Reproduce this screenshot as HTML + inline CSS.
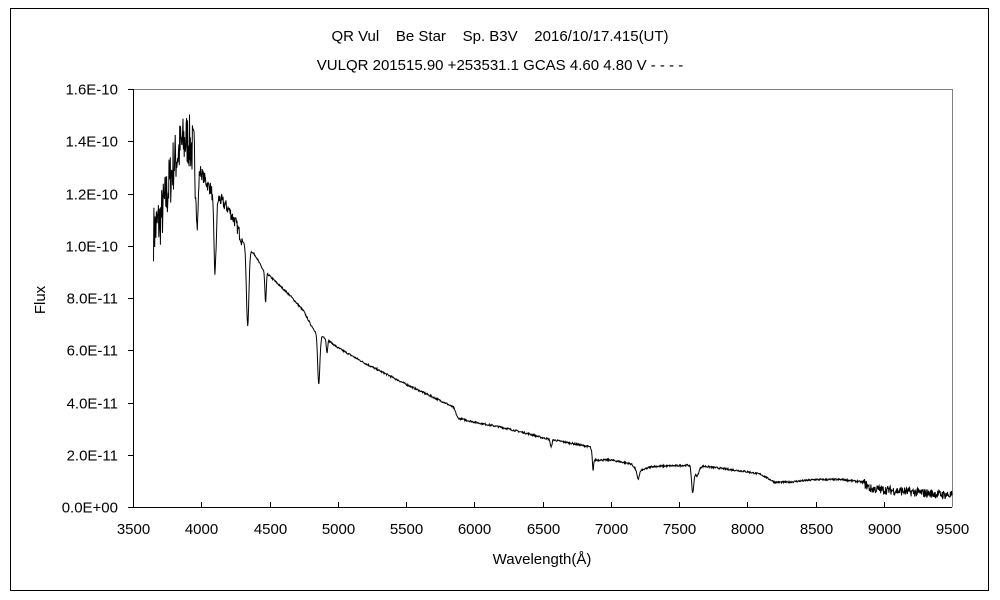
<!DOCTYPE html>
<html><head><meta charset="utf-8"><style>
body{margin:0;background:#fff;}
svg{display:block;font-family:"Liberation Sans","Noto Sans CJK JP",sans-serif;}
</style></head><body>
<svg id="s" width="1000" height="600" xmlns="http://www.w3.org/2000/svg">
<rect x="0" y="0" width="1000" height="600" fill="#fff"/>
<rect x="10.5" y="8.5" width="978" height="582" fill="none" stroke="#000" stroke-width="1"/>
<text x="500" y="41" font-size="15" text-anchor="middle" xml:space="preserve">QR Vul    Be Star    Sp. B3V    2016/10/17.415(UT)</text>
<text x="500" y="70" font-size="15" text-anchor="middle">VULQR 201515.90 +253531.1 GCAS 4.60 4.80 V - - - -</text>
<line x1="133" y1="89.5" x2="952" y2="89.5" stroke="#808080"/>
<line x1="952.5" y1="89" x2="952.5" y2="507" stroke="#808080"/>
<line x1="133.5" y1="89" x2="133.5" y2="507" stroke="#000"/>
<line x1="133" y1="507.5" x2="952" y2="507.5" stroke="#000"/>
<g id="ticks" stroke="#000"></g>
<g id="labels" font-size="15"></g>
<text x="45" y="300" font-size="15" text-anchor="middle" transform="rotate(-90 45 300)">Flux</text>
<text x="542" y="564" font-size="15" text-anchor="middle">Wavelength(Å)</text>
<polyline id="sp" fill="none" stroke="#000" stroke-width="1"/>
</svg>
<script>
var X=function(w){return 133+(w-3500)*0.1365;};
var Y=function(f){return 507-f*26.125;};
var t=document.getElementById('ticks'),l=document.getElementById('labels'),ns='http://www.w3.org/2000/svg';
function el(p,n,a,tx){var e=document.createElementNS(ns,n);for(var k in a)e.setAttribute(k,a[k]);if(tx)e.textContent=tx;p.appendChild(e);}
var yl=['0.0E+00','2.0E-11','4.0E-11','6.0E-11','8.0E-11','1.0E-10','1.2E-10','1.4E-10','1.6E-10'];
for(var i=0;i<=8;i++){var y=Math.round(Y(i*2))+0.5;el(t,'line',{x1:128,x2:133,y1:y,y2:y});el(l,'text',{x:118,y:y+5,'text-anchor':'end'},yl[i]);}
for(var w=3500;w<=9500;w+=500){var x=Math.round(X(w))+0.5;if(w>3500&&w<9500)el(t,'line',{x1:x,x2:x,y1:502,y2:507});el(l,'text',{x:x,y:534,'text-anchor':'middle'},''+w);}
var K=[[3650,10.5],[3700,11],[3750,12],[3800,13.2],[3850,13.8],[3900,14.1],[3950,13.5],[4000,12.8],[4050,12.3],[4150,11.7],[4200,11.4],[4250,10.9],[4300,10.2],[4400,9.6],[4450,9.1],[4550,8.6],[4650,8.1],[4750,7.5],[4800,7.0],[4850,6.6],[4900,6.5],[5000,6.1],[5200,5.5],[5500,4.7],[5800,3.95],[5850,3.8],[5880,3.4],[6000,3.25],[6200,3.05],[6400,2.8],[6500,2.65],[6700,2.45],[6850,2.3],[6880,1.8],[7000,1.8],[7150,1.65],[7200,1.35],[7300,1.55],[7580,1.6],[7700,1.55],[8000,1.35],[8100,1.25],[8200,0.95],[8300,0.95],[8500,1.05],[8700,1.05],[8850,0.95],[8900,0.7],[9500,0.45]];
var L=[[3970,2.5,8],[4101,3.0,9],[4340,3.0,9],[4471,1.2,5],[4861,1.9,8],[4921,0.5,5],[6563,0.3,6],[6870,0.6,4],[7600,1.0,8],[7630,0.4,15],[7200,0.3,8]];
function cont(w){for(var i=0;i<K.length-1;i++){if(w<=K[i+1][0]){var a=K[i],b=K[i+1];return a[1]+(b[1]-a[1])*(w-a[0])/(b[0]-a[0]);}}return K[K.length-1][1];}
var seed=7;function r(){seed=(seed*16807)%2147483647;return seed/2147483647-0.5;}
var pts=[];
for(var w=3650;w<=9500;w+=3){var f=cont(w);for(var j=0;j<L.length;j++){var d=(w-L[j][0])/L[j][2];f-=L[j][1]*Math.exp(-d*d/2);}
var a=w<3960?2.2:(w<4300?0.5:(w<8850?0.07:0.35));f+=a*r();if(f<0)f=0;pts.push(X(w).toFixed(1)+','+Y(f).toFixed(1));}
document.getElementById('sp').setAttribute('points',pts.join(' '));
</script>
</body></html>
